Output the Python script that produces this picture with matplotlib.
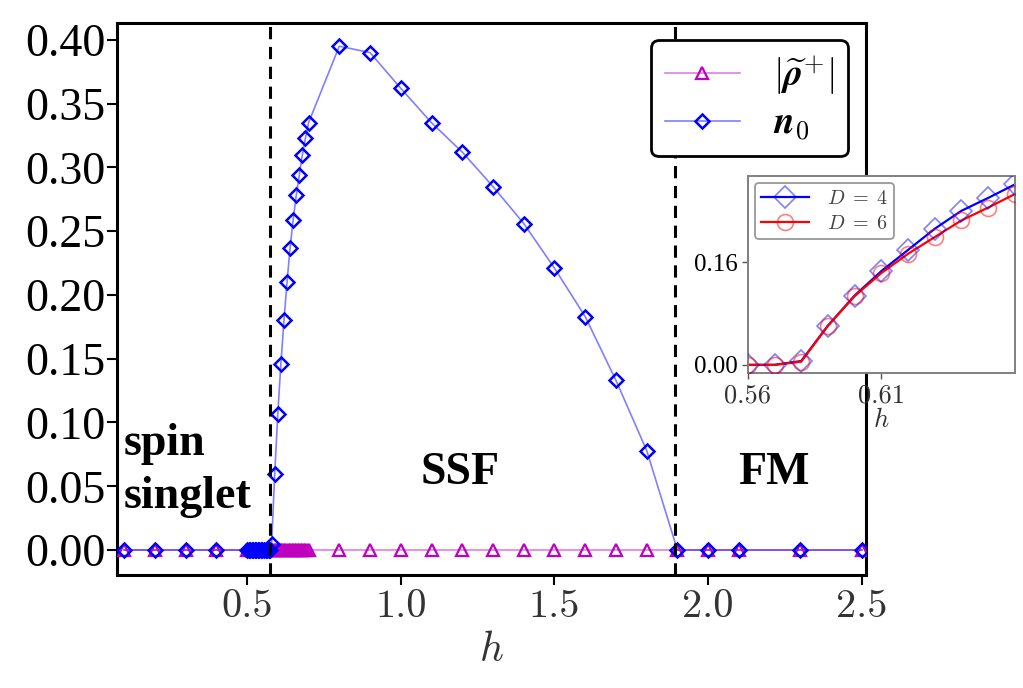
import matplotlib
matplotlib.use('Agg')
import matplotlib.pyplot as plt
import numpy as np

# main panel data
h_rho = [0.1, 0.2, 0.3, 0.4] + list(np.round(np.arange(0.5, 0.7001, 0.005), 3)) + \
        [0.8, 0.9, 1.0, 1.1, 1.2, 1.3, 1.4, 1.5, 1.6, 1.7, 1.8, 1.9, 2.0, 2.1, 2.3, 2.5]
rho = [0.0] * len(h_rho)

h_n0 = [0.1, 0.2, 0.3, 0.4,
        0.5, 0.505, 0.51, 0.515, 0.52, 0.525, 0.53, 0.535, 0.54, 0.545, 0.55, 0.555,
        0.56, 0.565, 0.57, 0.575,
        0.58, 0.59, 0.60, 0.61, 0.62, 0.63, 0.64, 0.65, 0.66, 0.67, 0.68, 0.69, 0.70,
        0.8, 0.9, 1.0, 1.1, 1.2, 1.3, 1.4, 1.5, 1.6, 1.7, 1.8, 1.9, 2.0, 2.1, 2.3, 2.5]
n0 = [0.0, 0.0, 0.0, 0.0,
      0.0, 0.0, 0.0, 0.0, 0.0, 0.0, 0.0, 0.0, 0.0, 0.0, 0.0, 0.0,
      0.0, 0.0, 0.0, 0.0,
      0.005, 0.060, 0.107, 0.146, 0.180, 0.210, 0.237, 0.259, 0.278, 0.294, 0.310, 0.323, 0.335,
      0.395, 0.390, 0.362, 0.335, 0.312, 0.285, 0.256, 0.221, 0.183, 0.133, 0.078,
      0.0, 0.0, 0.0, 0.0, 0.0]

h_c1, h_c2 = 0.576, 1.893

# inset data
h_in = [0.56, 0.57, 0.58, 0.59, 0.60, 0.61, 0.62, 0.63, 0.64, 0.65, 0.66]
n0_D4 = [0.0, 0.0, 0.006, 0.061, 0.108, 0.146, 0.179, 0.212, 0.240, 0.260, 0.281]
n0_D6 = [0.0, 0.0, 0.005, 0.061, 0.107, 0.143, 0.173, 0.199, 0.225, 0.245, 0.266]

plt.rcParams['mathtext.fontset'] = 'cm'
serif = 'Liberation Serif'

fig = plt.figure(figsize=(10.23, 6.88), dpi=100)
ax = fig.add_axes([0.1144, 0.1642, 0.732, 0.802])

ax.plot(h_rho, rho, color='m', alpha=0.5, lw=1.2, zorder=2)
ax.plot(h_rho, rho, ls='none', marker='^', ms=8, mfc='none', mec='m', mew=1.6, zorder=3)
ax.plot(h_n0, n0, color='b', alpha=0.5, lw=1.2, zorder=2)
ax.plot(h_n0, n0, ls='none', marker='D', ms=7.5, mfc='none', mec='b', mew=1.8, zorder=4)

ax.axvline(h_c1, color='k', lw=2.2, ls=(0, (4, 2.5)), zorder=5)
ax.axvline(h_c2, color='k', lw=2.2, ls=(0, (4, 2.5)), zorder=5)

# legend handles
l1, = ax.plot([], [], color='m', alpha=0.5, lw=1.2)
m1, = ax.plot([], [], ls='none', marker='^', ms=8, mfc='none', mec='m', mew=1.6)
l2, = ax.plot([], [], color='b', alpha=0.5, lw=1.2)
m2, = ax.plot([], [], ls='none', marker='D', ms=7, mfc='none', mec='b', mew=1.8)
leg = ax.legend([(l1, m1), (l2, m2)],
                [r'$|\widetilde{\boldsymbol{\rho}}^{+}|$', r'$\boldsymbol{n}_{\mathbf{0}}$'],
                loc='upper right', bbox_to_anchor=(0.976, 0.969), borderaxespad=0,
                fontsize=27, handlelength=2.0, handletextpad=0.9, fancybox=True,
                framealpha=1, borderpad=0.35, labelspacing=0.25)
leg.get_frame().set_edgecolor('k')
leg.get_frame().set_linewidth(2)

ax.set_xlim(0.077, 2.513)
ax.set_ylim(-0.0196, 0.413)
ax.set_xticks([0.5, 1.0, 1.5, 2.0, 2.5])
ax.set_xticklabels(['0.5', '1.0', '1.5', '2.0', '2.5'], fontfamily='cmr10',
                   fontsize=29, color='#333333')
yt = [0.0, 0.05, 0.10, 0.15, 0.20, 0.25, 0.30, 0.35, 0.40]
ax.set_yticks(yt)
ax.set_yticklabels(['%.2f' % v for v in yt], fontfamily=serif, fontsize=33)
ax.tick_params(direction='out', length=7, width=1.5)
ax.tick_params(axis='y', pad=1.5)
ax.set_xlabel(r'$h$', fontsize=30, color='#333333', labelpad=2)
for s in ax.spines.values():
    s.set_linewidth(2.2)

tkw = dict(fontfamily=serif, fontweight='bold', fontsize=33)
ax.text(0.1, 0.0745, 'spin', ha='left', va='baseline', **tkw)
ax.text(0.1, 0.033, 'singlet', ha='left', va='baseline', **tkw)
ax.text(1.192, 0.052, 'SSF', ha='center', va='baseline', **tkw)
ax.text(2.213, 0.052, 'FM', ha='center', va='baseline', **tkw)

# inset
ins = fig.add_axes([0.731, 0.458, 0.261, 0.286])
ins.plot(h_in, n0_D4, color='b', lw=1.6, zorder=2)
ins.plot(h_in, n0_D4, ls='none', marker='D', ms=11.5, mfc='none', mec='b', mew=1.2,
         alpha=0.5, zorder=3)
ins.plot(h_in, n0_D6, color='r', lw=1.6, zorder=2)
ins.plot(h_in, n0_D6, ls='none', marker='o', ms=11.5, mfc='none', mec='r', mew=1.2,
         alpha=0.5, zorder=3)
a1, = ins.plot([], [], color='b', lw=1.6)
b1, = ins.plot([], [], ls='none', marker='D', ms=11.5, mfc='none', mec='b', mew=1.2, alpha=0.5)
a2, = ins.plot([], [], color='r', lw=1.6)
b2, = ins.plot([], [], ls='none', marker='o', ms=11.5, mfc='none', mec='r', mew=1.2, alpha=0.5)
ileg = ins.legend([(a1, b1), (a2, b2)], [r'$D\;=\;4$', r'$D\;=\;6$'], loc='upper left',
                  fontsize=14.5, handlelength=2.4, framealpha=1, borderpad=0.3,
                  labelspacing=0.3, borderaxespad=0.35, handletextpad=0.9)
for t in ileg.get_texts():
    t.set_color('#444444')
ileg.get_frame().set_edgecolor('#999999')
ileg.get_frame().set_linewidth(1.3)

ins.set_xlim(0.56, 0.66)
ins.set_ylim(-0.0125, 0.294)
ins.set_xticks([0.56, 0.61])
ins.set_xticklabels(['0.56', '0.61'], fontfamily='cmr10', fontsize=19, color='#333333')
ins.set_yticks([0.0, 0.16])
ins.set_yticklabels(['0.00', '0.16'], fontfamily=serif, fontsize=18)
ins.tick_params(direction='out', length=4, width=1, color='#555555')
ins.set_xlabel(r'$h$', fontsize=19, color='#333333', labelpad=0)
for s in ins.spines.values():
    s.set_linewidth(1.4)
    s.set_edgecolor('#808080')

fig.savefig('out.png', dpi=100)
